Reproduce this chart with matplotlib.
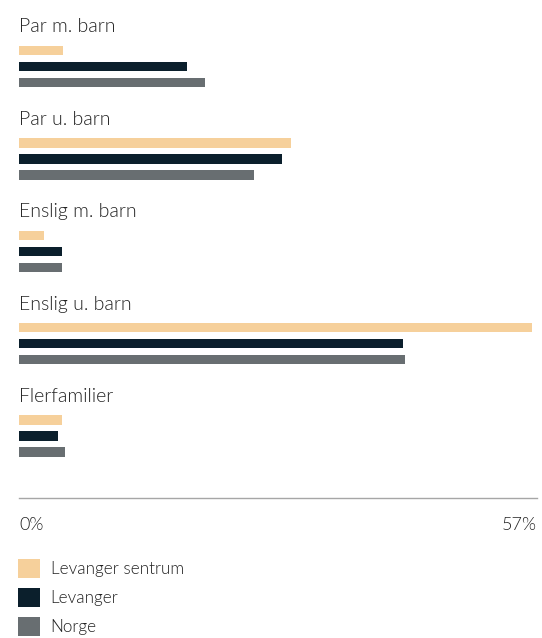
import matplotlib
matplotlib.use("Agg")
import matplotlib.pyplot as plt
from matplotlib import font_manager

categories = ["Par m. barn", "Par u. barn", "Enslig m. barn", "Enslig u. barn", "Flerfamilier"]
series_names = ["Levanger sentrum", "Levanger", "Norge"]
sentrum = [4.8, 29.9, 2.7, 56.5, 4.7]
levanger = [18.5, 28.9, 4.7, 42.2, 4.3]
norge = [20.5, 25.8, 4.7, 42.5, 5.0]
x_max = 57
tick_labels = ["0%", "57%"]

colors = ["#F6D09B", "#0B1F2C", "#686E71"]
text_color = "#222222"

W, H = 542, 638
fig = plt.figure(figsize=(W / 100, H / 100), dpi=100)
fam = ["Lato", "DejaVu Sans"]
weight = 300

left, right = 19.3, 537
top, bottom = 10, 498
ax = fig.add_axes([left / W, 1 - bottom / H, (right - left) / W, (bottom - top) / H])
ax.set_xlim(0, x_max)
ax.set_ylim(bottom, top)

group_first = 50.5
group_pitch = 92.4
bar_pitch = 16
bar_h = 9.5

all_series = [sentrum, levanger, norge]
for j, (vals, c, name) in enumerate(zip(all_series, colors, series_names)):
    ys = [group_first + i * group_pitch + j * bar_pitch for i in range(len(categories))]
    ax.barh(ys, vals, height=bar_h, color=c, label=name)

for i, cat in enumerate(categories):
    ax.text(0, group_first + i * group_pitch - 18, cat, ha="left", va="baseline",
            fontsize=14, family=fam, fontweight=weight, color=text_color)

for s in ["top", "right", "left"]:
    ax.spines[s].set_visible(False)
ax.spines["bottom"].set_color("#A6A6A6")
ax.spines["bottom"].set_linewidth(1)
ax.set_yticks([])
ax.set_xticks([0, x_max])
ax.set_xticklabels(tick_labels, family=fam, fontweight=weight, fontsize=13, color=text_color)
ax.tick_params(axis="x", length=0, pad=14)
labs = ax.get_xticklabels()
labs[0].set_ha("left")
labs[1].set_ha("right")

handles, lbls = ax.get_legend_handles_labels()
leg = fig.legend(handles, lbls, loc="upper left", bbox_to_anchor=(18 / W, 1 - 559 / H),
                 frameon=False, prop=font_manager.FontProperties(family=fam, size=12.3, weight=weight),
                 handlelength=1.31, handleheight=1.31, handletextpad=0.6, labelspacing=0.6,
                 borderaxespad=0, borderpad=0)
for t in leg.get_texts():
    t.set_color(text_color)

fig.savefig("out.png", dpi=100)
